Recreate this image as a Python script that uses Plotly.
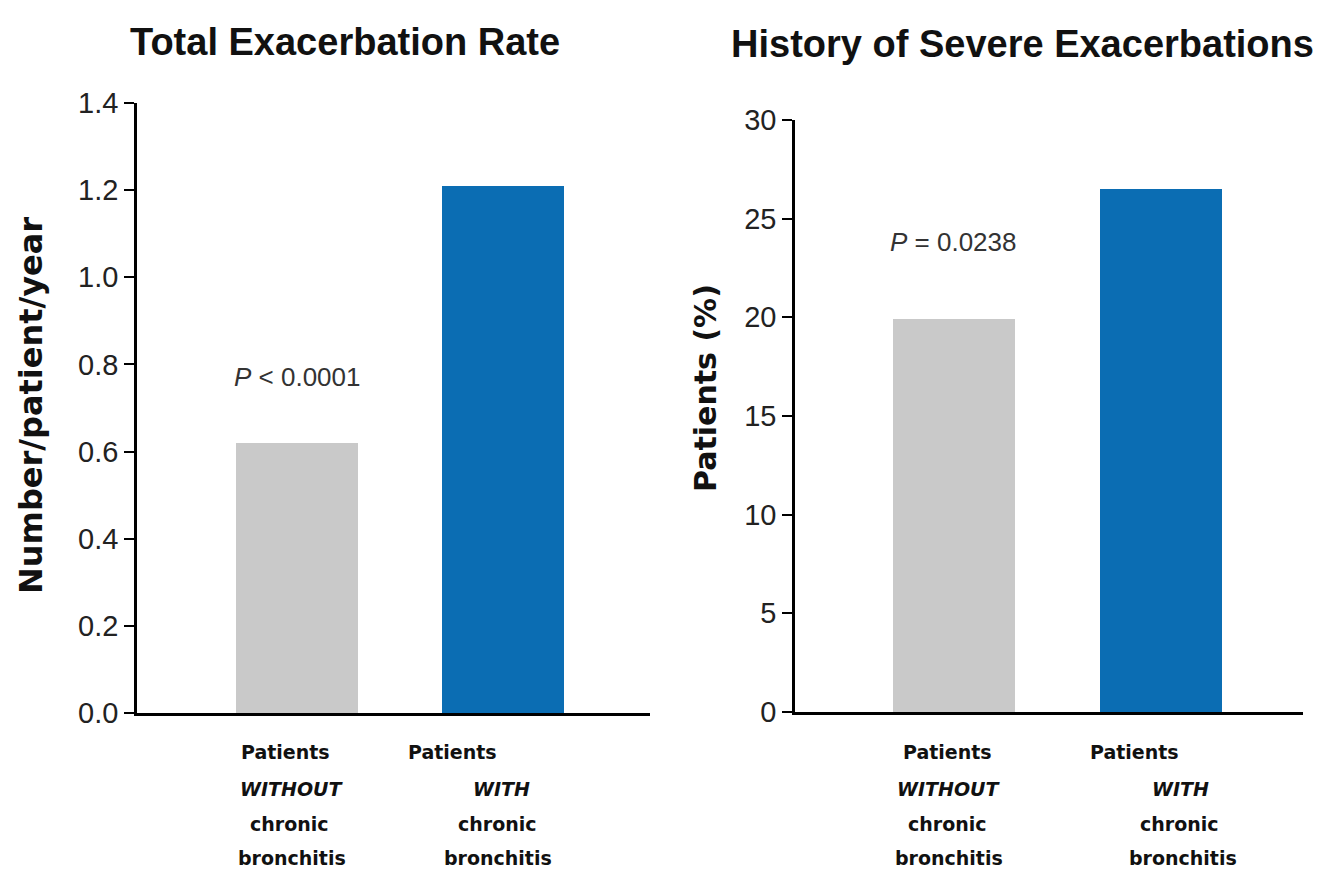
import plotly.graph_objects as go

# ---- data ----
categories = ["Patients WITHOUT chronic bronchitis", "Patients WITH chronic bronchitis"]
label_lines = [["Patients", "<i>WITHOUT</i>", "chronic", "bronchitis"],
               ["Patients", "<i>WITH</i>", "chronic", "bronchitis"]]
exac_rate = [0.62, 1.21]          # number/patient/year
severe_pct = [19.9, 26.5]         # patients (%)
left_ticks = [0.0, 0.2, 0.4, 0.6, 0.8, 1.0, 1.2, 1.4]
right_ticks = [0, 5, 10, 15, 20, 25, 30]
p_left = "<i>P</i> < 0.0001"
p_right = "<i>P</i> = 0.0238"
title_left = "Total Exacerbation Rate"
title_right = "History of Severe Exacerbations"
ytitle_left = "Number/patient/year"
ytitle_right = "Patients (%)"

# ---- style ----
W, H = 1323, 869
GRAY = "#c9c9c9"
BLUE = "#0b6db3"
SANS = "Liberation Sans, Arial, sans-serif"
WIDE = "DejaVu Sans, Verdana, sans-serif"

def px_x(p):
    return p / W

def px_y(p):
    return 1 - p / H

xs = [0, 1]
fig = go.Figure()
fig.add_trace(go.Bar(x=xs, y=exac_rate, marker=dict(color=[GRAY, BLUE], line_width=0),
                     width=0.59, xaxis="x", yaxis="y", showlegend=False, hoverinfo="y"))
fig.add_trace(go.Bar(x=xs, y=severe_pct, marker=dict(color=[GRAY, BLUE], line_width=0),
                     width=0.59, xaxis="x2", yaxis="y2", showlegend=False, hoverinfo="y"))

axis_common = dict(showline=True, linecolor="black", linewidth=2.5, showgrid=False,
                   zeroline=False, automargin=False)

fig.update_layout(
    template="none",
    width=W, height=H, margin=dict(l=0, r=0, t=0, b=0, pad=0),
    plot_bgcolor="white", paper_bgcolor="white",
    bargap=0, showlegend=False,
    xaxis=dict(domain=[px_x(137), px_x(650)], range=[-0.777, 1.713], showticklabels=False,
               ticks="", anchor="y", **axis_common),
    yaxis=dict(domain=[px_y(713), px_y(103)], range=[0, 1.4], tickvals=left_ticks,
               ticktext=[f"{v:.1f}" for v in left_ticks], ticks="outside", ticklen=10,
               tickwidth=2, tickcolor="black", anchor="x",
               tickfont=dict(family=SANS, size=29, color="#222"), **axis_common),
    xaxis2=dict(domain=[px_x(795), px_x(1303)], range=[-0.768, 1.686], showticklabels=False,
                ticks="", anchor="y2", **axis_common),
    yaxis2=dict(domain=[px_y(712), px_y(120)], range=[0, 30], tickvals=right_ticks,
                ticktext=[str(v) for v in right_ticks], ticks="outside", ticklen=10,
                tickwidth=2, tickcolor="black", anchor="x2",
                tickfont=dict(family=SANS, size=29, color="#222"), **axis_common),
)

ann = []
def add(text, x, y, xref="paper", yref="paper", size=20, family=SANS, color="#111", **kw):
    ann.append(dict(text=text, x=x, y=y, xref=xref, yref=yref, showarrow=False,
                    xanchor="center", yanchor="middle",
                    font=dict(family=family, size=size, color=color), **kw))

# titles
add(f"<b>{title_left}</b>", px_x(345), px_y(42), size=38)
add(f"<b>{title_right}</b>", px_x(1022), px_y(44), size=38)
# y titles
add(f"<b>{ytitle_left}</b>", px_x(31), px_y(406), size=32, family=WIDE, textangle=-90)
add(f"<b>{ytitle_right}</b>", px_x(705), px_y(388), size=30, family=WIDE, textangle=-90)
# p values
add(p_left, 0, 0.77, xref="x", yref="y", size=26, color="#333")
add(p_right, 0, 23.8, xref="x2", yref="y2", size=26, color="#333")

# category labels, one annotation per line
line_y = [752, 789, 824, 858]
shifts = {
    ("x", 0): [-12, -6, -8, -5], ("x", 1): [-51, -2, -6, -5],
    ("x2", 0): [-6, -5, -6, -5], ("x2", 1): [-26, 20, 19, 22],
}
for xr in ["x", "x2"]:
    for i, lines in enumerate(label_lines):
        for j, ln in enumerate(lines):
            add(f"<b>{ln}</b>", xs[i], px_y(line_y[j]), xref=xr, size=19, family=WIDE,
                xshift=shifts[(xr, i)][j])

fig.update_layout(annotations=ann)
fig.write_html("out.html")
